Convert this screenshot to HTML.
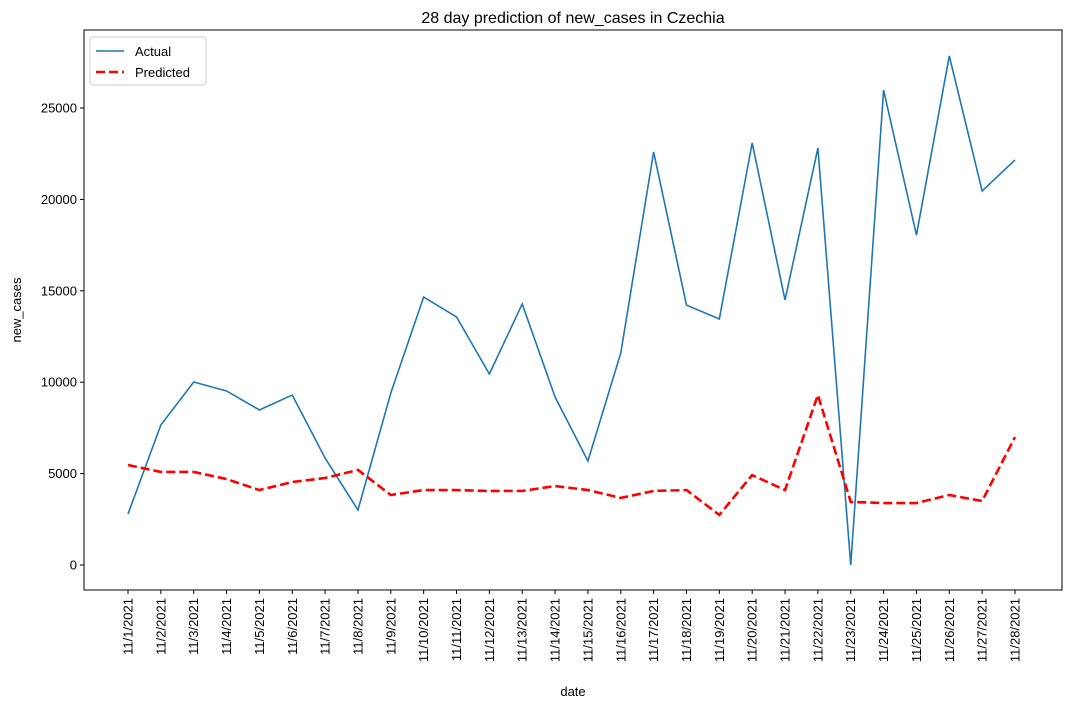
<!DOCTYPE html>
<html><head><meta charset="utf-8"><style>
html,body{margin:0;padding:0;background:#fff;}
svg{display:block;font-family:"Liberation Sans",sans-serif;}
</style></head><body>
<svg id="chart" width="1070" height="709"></svg>
<script>
const categories = ["11/1/2021","11/2/2021","11/3/2021","11/4/2021","11/5/2021","11/6/2021","11/7/2021","11/8/2021","11/9/2021","11/10/2021","11/11/2021","11/12/2021","11/13/2021","11/14/2021","11/15/2021","11/16/2021","11/17/2021","11/18/2021","11/19/2021","11/20/2021","11/21/2021","11/22/2021","11/23/2021","11/24/2021","11/25/2021","11/26/2021","11/27/2021","11/28/2021"];
const actualValues = [2790,7660,10010,9520,8480,9300,5850,3010,9410,14660,13570,10450,14280,9190,5690,11600,22590,14220,13460,23090,14500,22810,0,25980,18050,27850,20460,22160];
const predictedValues = [5470,5090,5090,4700,4100,4540,4760,5200,3830,4100,4100,4050,4050,4320,4100,3670,4050,4100,2740,4920,4100,9300,3450,3390,3390,3830,3500,7000];
const yTicks = [0,5000,10000,15000,20000,25000];

const NS="http://www.w3.org/2000/svg";
const svg=document.getElementById('chart');
const L=84,R=1062,T=30,B=590;
function xScale(i){return 128+i*(1015-128)/(categories.length-1);}
function yScale(v){return 565-v*(565-108)/25000;}
function mk(tag,attrs,parent){const e=document.createElementNS(NS,tag);for(const k in attrs)e.setAttribute(k,attrs[k]);(parent||svg).appendChild(e);return e;}

const title=mk('text',{x:(L+R)/2,y:23,'text-anchor':'middle','font-size':16,fill:'#000'});
title.textContent='28 day prediction of new_cases in Czechia';



const frame=mk('rect',{x:L,y:T,width:R-L,height:B-T,fill:'none',stroke:'#000','stroke-width':1});



yTicks.forEach(t=>{
  const y=yScale(t);
  mk('line',{x1:L-4,x2:L,y1:y,y2:y,stroke:'#000'});
  const lb=mk('text',{x:L-7,y:y+4.5,'text-anchor':'end','font-size':13,fill:'#000'});
  lb.textContent=t;
  
  
});
categories.forEach((c,i)=>{
  const x=xScale(i);
  mk('line',{x1:x,x2:x,y1:B,y2:B+4,stroke:'#000'});
  const lb=mk('text',{x:0,y:0,'text-anchor':'end','font-size':13,fill:'#000',transform:`translate(${x+4.5},${B+8}) rotate(-90)`});
  lb.textContent=c;
  
  
});
const xt=mk('text',{x:(L+R)/2,y:696,'text-anchor':'middle','font-size':13,fill:'#000'});
xt.textContent='date';


const yt=mk('text',{x:0,y:0,'text-anchor':'middle','font-size':13,fill:'#000',transform:`translate(21,${(T+B)/2}) rotate(-90)`});
yt.textContent='new_cases';



const a=mk('polyline',{points:actualValues.map((v,i)=>xScale(i)+','+yScale(v)).join(' '),fill:'none',stroke:'#1f77b4','stroke-width':1.6});


const p=mk('polyline',{points:predictedValues.map((v,i)=>xScale(i)+','+yScale(v)).join(' '),fill:'none',stroke:'#ff0000','stroke-width':2.6,'stroke-dasharray':'9,4'});



const lg=mk('g',{});


mk('rect',{x:90,y:37,width:116,height:48,rx:3,fill:'#fff',stroke:'#ccc'},lg);
mk('line',{x1:96,x2:124,y1:51,y2:51,stroke:'#1f77b4','stroke-width':1.6},lg);
mk('line',{x1:96,x2:124,y1:72,y2:72,stroke:'#ff0000','stroke-width':2.6,'stroke-dasharray':'9,4'},lg);
const l1=mk('text',{x:135,y:56,'font-size':13,fill:'#000'},lg);l1.textContent='Actual';


const l2=mk('text',{x:135,y:77,'font-size':13,fill:'#000'},lg);l2.textContent='Predicted';


</script>
</body></html>
